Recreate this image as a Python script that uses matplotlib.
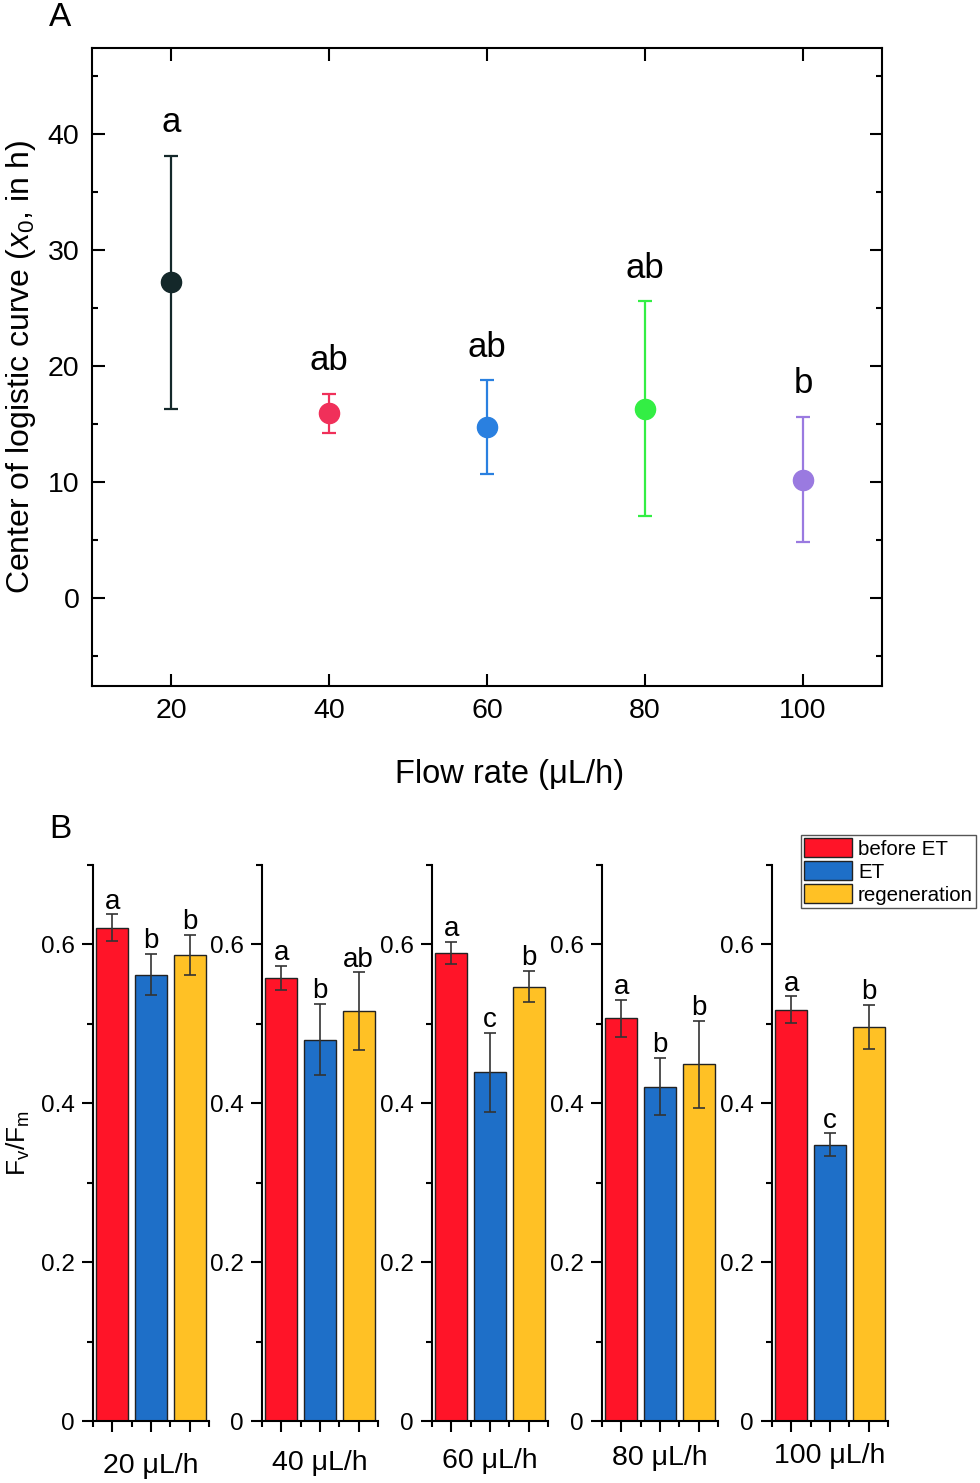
import matplotlib
matplotlib.use("Agg")
import matplotlib.pyplot as plt
import matplotlib.patches as patches
from matplotlib.ticker import MultipleLocator
import numpy as np

plt.rcParams["font.family"] = ["Liberation Sans", "DejaVu Sans"]
plt.rcParams["mathtext.fontset"] = "custom"
plt.rcParams["mathtext.rm"] = "Liberation Sans"
plt.rcParams["mathtext.it"] = "Liberation Sans:italic"

# panel A data
flow_rates = [20, 40, 60, 80, 100]
x0_mean = [27.2, 15.9, 14.7, 16.3, 10.2]
x0_err = [10.9, 1.7, 4.05, 9.25, 5.4]
x0_letters = ["a", "ab", "ab", "ab", "b"]
x0_colors = ["#14282a", "#f0305a", "#2a80e0", "#33ee44", "#9a7ae0"]

# panel B data
groups = ["20 μL/h", "40 μL/h", "60 μL/h", "80 μL/h", "100 μL/h"]
series = ["before ET", "ET", "regeneration"]
series_colors = ["#ff1428", "#1e6fc8", "#ffc125"]
fvfm_before = [0.621, 0.558, 0.589, 0.507, 0.518]
fvfm_before_err = [0.017, 0.015, 0.014, 0.023, 0.017]
fvfm_et = [0.562, 0.480, 0.439, 0.421, 0.348]
fvfm_et_err = [0.026, 0.045, 0.050, 0.036, 0.014]
fvfm_regen = [0.587, 0.516, 0.547, 0.449, 0.496]
fvfm_regen_err = [0.025, 0.049, 0.020, 0.055, 0.028]
fvfm_letters = [["a", "b", "b"], ["a", "b", "ab"], ["a", "c", "b"],
                ["a", "b", "b"], ["a", "c", "b"]]

W, H = 980, 1483
fig = plt.figure(figsize=(W / 100, H / 100), dpi=100)

# ---- panel A ----
axA = fig.add_axes([92 / W, 1 - 686 / H, 790 / W, 638 / H])
for x, m, e, c, lab in zip(flow_rates, x0_mean, x0_err, x0_colors, x0_letters):
    axA.errorbar(x, m, yerr=e, fmt="o", color=c, ms=14.5, capsize=5,
                 elinewidth=1.6, capthick=1.6)
    axA.annotate(lab, (x, m + e), xytext=(0, 17), textcoords="offset points",
                 ha="center", va="baseline", fontsize=25)
axA.set_xlim(10, 110)
axA.set_ylim(-7.6, 47.4)
axA.set_xticks(flow_rates)
axA.yaxis.set_major_locator(MultipleLocator(10))
axA.yaxis.set_minor_locator(MultipleLocator(5))
axA.tick_params(which="both", direction="in", top=True, right=True,
                labelsize=20.5, width=1.5)
axA.tick_params(which="major", length=9, pad=9)
axA.tick_params(which="minor", length=4.5)
for s in axA.spines.values():
    s.set_linewidth(1.5)
axA.set_xlabel("Flow rate (μL/h)", fontsize=23.5)
axA.xaxis.set_label_coords(0.529, -0.115)
axA.set_ylabel("Center of logistic curve ($x_0$, in h)", fontsize=23)
axA.yaxis.set_label_coords(-0.068, 0.5)
fig.text(49 / W, 1 - 18 / H, "A", fontsize=24, va="center")

# ---- panel B ----
fig.text(49 / W, 1 - 830 / H, "B", fontsize=24, va="center")
means = [fvfm_before, fvfm_et, fvfm_regen]
errs = [fvfm_before_err, fvfm_et_err, fvfm_regen_err]
lefts = [93, 262, 432, 602, 772]
pos = np.arange(1, 4)
for g, left in enumerate(lefts):
    ax = fig.add_axes([left / W, 1 - 1421 / H, 116 / W, 556 / H])
    vals = [m[g] for m in means]
    ers = [e[g] for e in errs]
    ax.bar(pos, vals, width=0.82, color=series_colors, edgecolor="#222222",
           linewidth=1.0, zorder=2)
    ax.errorbar(pos, vals, yerr=ers, fmt="none", ecolor="#333333",
                elinewidth=1.2, capsize=4, capthick=1.2, zorder=3)
    for p, v, e, lab in zip(pos, vals, ers, fvfm_letters[g]):
        ax.annotate(lab, (p, v + e), xytext=(0, 4), textcoords="offset points",
                    ha="center", va="baseline", fontsize=20)
    ax.set_xlim(0.5, 3.5)
    ax.set_ylim(0, 0.7)
    ax.set_xticks(pos)
    ax.set_xticklabels([])
    ax.xaxis.set_minor_locator(MultipleLocator(1, offset=0.5))
    ax.set_yticks([0, 0.2, 0.4, 0.6])
    ax.set_yticklabels(["0", "0.2", "0.4", "0.6"])
    ax.yaxis.set_minor_locator(MultipleLocator(0.1))
    ax.spines["top"].set_visible(False)
    ax.spines["right"].set_visible(False)
    for s in ("left", "bottom"):
        ax.spines[s].set_linewidth(1.5)
    ax.tick_params(which="both", direction="out", labelsize=17.5, width=1.5)
    ax.tick_params(which="major", length=8, pad=5)
    ax.tick_params(which="minor", length=4)
    ax.set_xlabel(groups[g], fontsize=20.5)
    ax.xaxis.set_label_coords(0.5, -0.057 + 0.0045 * g)
    if g == 0:
        ax.set_ylabel("$\\mathregular{F_v/F_m}$", fontsize=19)
        ax.yaxis.set_label_coords(-0.53, 0.5)

handles = [patches.Patch(facecolor=c, edgecolor="#222222", label=s)
           for c, s in zip(series_colors, series)]
fig.legend(handles=handles, loc="upper right",
           bbox_to_anchor=(976 / W, 1 - 835 / H), fontsize=14.8,
           frameon=True, fancybox=False, edgecolor="#555555", framealpha=1,
           borderpad=0.15, labelspacing=0.12, handlelength=2.3,
           handleheight=1.05, handletextpad=0.3, borderaxespad=0)

fig.savefig("out.png", dpi=100, facecolor="white")
